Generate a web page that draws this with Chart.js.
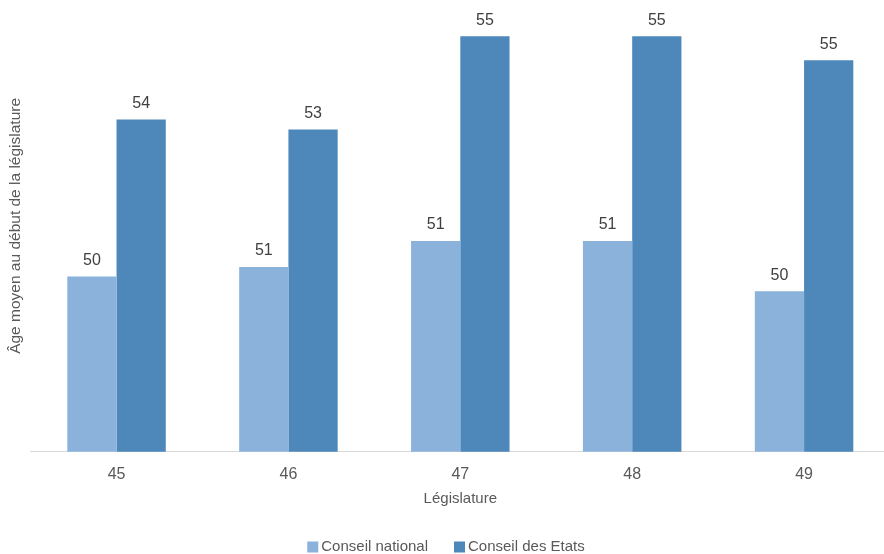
<!DOCTYPE html>
<html>
<head>
<meta charset="utf-8">
<script src="https://cdn.jsdelivr.net/npm/chart.js@4/dist/chart.umd.min.js"></script>
<style>
  html, body { margin: 0; padding: 0; overflow: hidden; background: #fff; }
  #wrap { width: 892px; height: 554px; }
</style>
</head>
<body>
<div id="wrap"><canvas id="chart" width="892" height="554"></canvas></div>
<script>
const legislatures = ['45', '46', '47', '48', '49'];
const conseilNational = [50.49, 50.68, 51.2, 51.2, 50.2];
const conseilEtats = [53.62, 53.42, 55.28, 55.28, 54.8];

const FONT = '"Liberation Sans", Arial, sans-serif';

// draws the rounded value above each bar
const valueLabels = {
    id: 'valueLabels',
    afterDatasetsDraw(chart) {
        const ctx = chart.ctx;
        ctx.save();
        ctx.font = '16px ' + FONT;
        ctx.fillStyle = '#404040';
        ctx.textAlign = 'center';
        ctx.textBaseline = 'bottom';
        chart.data.datasets.forEach((ds, i) => {
            chart.getDatasetMeta(i).data.forEach((bar, j) => {
                ctx.fillText(Math.round(ds.data[j]), bar.x, bar.y - 8);
            });
        });
        ctx.restore();
    }
};

// simple legend at the bottom, centred on the canvas
const bottomLegend = {
    id: 'bottomLegend',
    afterDraw(chart) {
        const ctx = chart.ctx;
        const box = 11, gap = 3, spacing = 26, y = 547;
        ctx.save();
        ctx.font = '15px ' + FONT;
        ctx.textBaseline = 'middle';
        const items = chart.data.datasets.map(ds => ({
            text: ds.label, color: ds.backgroundColor, w: ctx.measureText(ds.label).width
        }));
        let total = items.reduce((s, it) => s + box + gap + it.w, 0) + spacing * (items.length - 1);
        let x = chart.width / 2 - total / 2;
        items.forEach(it => {
            ctx.fillStyle = it.color;
            ctx.fillRect(x, y - box / 2, box, box);
            x += box + gap;
            ctx.fillStyle = '#595959';
            ctx.fillText(it.text, x, y);
            x += it.w + spacing;
        });
        ctx.restore();
    }
};

new Chart(document.getElementById('chart'), {
    type: 'bar',
    data: {
        labels: legislatures,
        datasets: [
            { label: 'Conseil national', data: conseilNational, backgroundColor: '#8AB2DB' },
            { label: 'Conseil des Etats', data: conseilEtats, backgroundColor: '#4E88BA' }
        ]
    },
    options: {
        responsive: false,
        animation: false,
        layout: { padding: { left: 0, right: 2, top: 0, bottom: 46 } },
        datasets: { bar: { categoryPercentage: 0.573, barPercentage: 1 } },
        plugins: {
            legend: { display: false },
            tooltip: { enabled: false }
        },
        scales: {
            x: {
                grid: { display: false, drawTicks: false },
                border: { color: '#D9D9D9', width: 1 },
                ticks: { color: '#595959', padding: 13, font: { family: FONT, size: 16 } },
                title: {
                    display: true, text: 'Législature', color: '#595959',
                    font: { family: FONT, size: 15 }, padding: { top: -7, bottom: 0 }
                }
            },
            y: {
                min: 47, max: 56,
                grid: { display: false, drawTicks: false },
                border: { display: false },
                ticks: { display: false },
                title: {
                    display: true, text: 'Âge moyen au début de la législature', color: '#595959',
                    font: { family: FONT, size: 15.5 }, padding: { top: 6, bottom: 6 }
                }
            }
        }
    },
    plugins: [valueLabels, bottomLegend]
});
</script>
</body>
</html>
